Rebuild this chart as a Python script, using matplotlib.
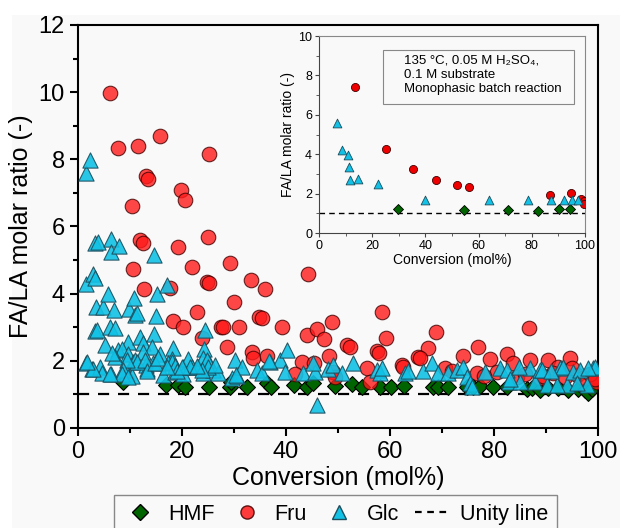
import matplotlib.pyplot as plt
from matplotlib.lines import Line2D
from matplotlib.patches import Rectangle

plt.rcParams['font.family'] = ['Liberation Sans', 'DejaVu Sans']

# main plot data (conversion in mol%, FA/LA ratio)
hmf_x = [8.7, 16.9, 19.2, 20.6, 25.2, 29.2, 29.4, 32.5, 36.3, 37.1, 41.5, 44.0, 45.2, 49.4,
         52.6, 54.6, 58.1, 60.2, 62.7, 68.3, 69.2, 71.2, 74.8, 76.0, 77.3, 79.8, 82.5, 86.3,
         87.3, 88.8, 90.4, 92.4, 94.3, 96.2, 97.5, 98.1, 98.8]
hmf_y = [1.37, 1.28, 1.28, 1.22, 1.22, 1.22, 1.37, 1.22, 1.34, 1.22, 1.28, 1.22, 1.34, 1.25,
         1.31, 1.22, 1.22, 1.22, 1.25, 1.22, 1.22, 1.22, 1.22, 1.22, 1.25, 1.22, 1.22, 1.16,
         1.19, 1.13, 1.19, 1.19, 1.13, 1.16, 1.13, 1.04, 1.16]

fru_x = [6.2, 7.7, 11.5, 15.8, 25.2, 13.1, 13.5, 19.8, 20.6, 10.4, 12.0, 12.5, 19.2, 25.0,
         10.6, 12.7, 17.6, 21.9, 24.8, 25.2, 29.2, 30.0, 22.8, 18.3, 20.1, 23.9, 27.5, 27.8,
         31.0, 28.7, 33.2, 36.0, 34.8, 35.4, 39.2, 33.4, 33.7, 36.3, 44.3, 44.1, 46.0, 47.4,
         48.9, 43.0, 45.3, 41.7, 48.2, 49.0, 51.7, 52.3, 58.4, 59.2, 57.5, 57.9, 55.6, 56.2,
         68.8, 67.3, 65.4, 65.8, 62.3, 62.5, 70.6, 76.9, 74.0, 79.2, 82.5, 83.7, 86.7, 86.9,
         90.4, 92.3, 94.6, 76.7, 80.6, 84.4, 91.3, 96.0, 99.0, 99.9, 97.1, 93.7, 88.8, 49.4,
         95.0, 98.5, 99.5, 89.5, 86.0, 72.0, 78.0]
fru_y = [9.98, 8.34, 8.40, 8.70, 8.16, 7.50, 7.40, 7.10, 6.80, 6.60, 5.60, 5.50, 5.40, 5.70,
         4.73, 4.13, 4.17, 4.80, 4.35, 4.32, 4.90, 3.75, 3.46, 3.19, 3.00, 2.68, 3.00, 3.00,
         3.00, 2.42, 4.40, 4.13, 3.30, 3.27, 3.00, 2.26, 2.07, 2.15, 4.60, 2.77, 2.95, 2.65,
         3.15, 1.97, 1.93, 1.60, 2.14, 1.67, 2.47, 2.41, 3.45, 2.68, 2.30, 2.24, 1.79, 1.37,
         2.86, 2.38, 2.11, 2.08, 1.88, 1.82, 1.79, 2.41, 2.14, 2.05, 2.20, 1.93, 2.98, 2.02,
         2.02, 1.82, 2.08, 1.64, 1.67, 1.52, 1.64, 1.58, 1.52, 1.37, 1.49, 1.52, 1.49, 1.52,
         1.80, 1.60, 1.45, 1.55, 1.60, 1.70, 1.55]

glc_x = [1.5, 2.3, 3.3, 3.8, 6.3, 6.3, 7.9, 14.6,
         1.5, 2.9, 3.3, 3.5, 4.8, 5.8, 6.9, 3.3, 3.6, 6.2, 7.1, 9.8, 11.0, 11.3, 10.8, 15.2,
         17.1, 15.0, 5.2, 9.6, 11.9, 12.5, 14.6, 14.2, 24.4, 24.2,
         1.5, 2.7, 4.2, 4.6, 6.3, 7.7, 8.5, 7.1, 9.6, 10.6, 11.0, 9.4, 10.4, 12.5, 13.1, 13.3,
         14.4, 15.8, 16.3, 18.3, 18.1, 18.7, 17.3, 20.2, 21.2, 20.2, 21.9, 23.1, 24.0, 24.0,
         25.2, 25.9, 27.0, 30.2, 29.6, 30.6, 31.5, 34.4, 35.4, 36.9, 38.8, 40.1, 39.8, 43.2,
         45.6, 45.9,
         6.5, 11.3, 9.4, 8.7, 8.5, 9.6, 12.9, 13.3, 14.8, 15.4, 18.1, 18.7, 19.0, 17.1, 21.5,
         24.8, 25.0, 23.8, 20.0, 22.9, 2.9, 6.2, 1.7,
         26.3, 30.4, 36.7, 48.1, 49.0,
         45.2, 50.7, 52.9, 57.5, 58.1, 58.5, 62.9, 63.5, 66.3, 68.0, 69.2, 71.2, 72.9, 74.0,
         74.8, 75.4, 78.3, 81.2, 82.5, 82.9, 85.0, 86.9, 87.9, 88.8, 90.2, 92.7, 93.3, 94.0,
         95.2, 96.5, 97.9, 99.0, 99.4, 98.1, 96.0, 75.8, 89.2, 92.1, 83.1, 84.8, 91.0]
glc_y = [7.60, 7.98, 5.50, 5.54, 5.63, 5.24, 5.42, 5.15,
         4.30, 4.60, 4.47, 3.60, 3.60, 3.98, 3.51, 2.89, 2.92, 3.00, 2.98, 3.54, 3.36, 3.42,
         3.87, 3.99, 4.26, 3.33, 2.47, 2.56, 2.71, 2.53, 2.80, 2.41, 2.92, 2.35,
         1.94, 1.76, 1.82, 1.64, 1.61, 2.32, 2.35, 2.11, 2.20, 1.97, 2.02, 1.64, 1.55, 2.26,
         1.88, 1.76, 1.94, 2.20, 1.58, 2.38, 2.05, 1.67, 1.94, 1.82, 2.05, 1.61, 1.82, 1.82,
         2.08, 1.64, 1.94, 1.73, 1.64, 2.02, 1.49, 1.55, 1.82, 1.73, 1.64, 1.97, 2.02, 2.32,
         1.67, 1.64, 1.67, 0.68,
         2.23, 1.97, 2.02, 1.73, 1.61, 1.52, 2.02, 1.70, 1.94, 2.08, 1.97, 1.85, 1.70, 1.82,
         1.82, 2.02, 1.82, 1.73, 1.82, 1.85, 1.76, 1.61, 1.97,
         1.88, 1.58, 2.00, 1.76, 1.88,
         1.94, 1.64, 1.94, 1.73, 1.64, 1.79, 1.64, 1.70, 1.70, 1.94, 1.64, 1.64, 1.73, 1.82,
         1.52, 1.34, 1.67, 1.79, 1.73, 1.37, 1.37, 1.79, 1.37, 1.73, 1.28, 1.79, 1.82, 1.28,
         1.67, 1.73, 1.28, 1.79, 1.82, 1.79, 1.34, 1.22, 1.73, 1.28, 1.46, 1.82, 1.70]

# inset data (monophasic batch reaction)
in_hmf_x = [29.6, 54.5, 70.9, 82.2, 90.2, 94.4]
in_hmf_y = [1.20, 1.15, 1.19, 1.12, 1.24, 1.24]
in_fru_x = [13.5, 25.2, 35.2, 44.0, 51.8, 56.5, 86.8, 94.7, 98.5, 99.7, 99.7]
in_fru_y = [7.39, 4.29, 3.24, 2.71, 2.42, 2.34, 1.95, 2.03, 1.71, 1.61, 1.49]
in_glc_x = [6.6, 8.5, 10.8, 11.4, 11.7, 14.5, 22.0, 39.8, 63.9, 78.4, 87.1, 92.2, 95.0, 97.5]
in_glc_y = [5.61, 4.20, 3.95, 3.36, 2.71, 2.76, 2.51, 1.66, 1.66, 1.66, 1.66, 1.66, 1.66, 1.66]

c_hmf = '#006400'
c_fru = '#ff1a1a'
c_glc = '#12c2e6'
bg = '#f9f9f9'

fig = plt.figure(figsize=(6.2, 5.28), dpi=100)
fig.patch.set_facecolor('white')
fig.add_artist(Rectangle((12 / 620, 0), 1, 1 - 15 / 528, transform=fig.transFigure,
                         facecolor=bg, edgecolor='none', zorder=-10))

ax = fig.add_axes([0.1258, 0.1894, 0.8387, 0.7633])
ax.set_facecolor(bg)
ax.axhline(1, color='black', ls=(0, (5, 4)), lw=1.6, zorder=1)
ax.scatter(hmf_x, hmf_y, marker='D', s=65, c=c_hmf, edgecolors='black', linewidths=0.8, zorder=2)
ax.scatter(fru_x, fru_y, marker='o', s=110, c=c_fru, alpha=0.8, edgecolors='#400000',
           linewidths=0.8, zorder=3)
ax.scatter(glc_x, glc_y, marker='^', s=120, c=c_glc, alpha=0.9, edgecolors='#1b4d5c',
           linewidths=0.8, zorder=4)

ax.set_xlim(0, 100)
ax.set_ylim(0, 12)
ax.set_xticks(range(0, 101, 20))
ax.set_xticks(range(10, 101, 20), minor=True)
ax.set_yticks(range(0, 13, 2))
ax.set_yticks(range(1, 13, 2), minor=True)
ax.tick_params(which='both', direction='out', width=1.5, top=False, right=False, labelsize=17)
ax.tick_params(which='major', length=6)
ax.tick_params(which='minor', length=3.5)
for sp in ax.spines.values():
    sp.set_linewidth(1.5)
ax.set_xlabel('Conversion (mol%)', fontsize=18, labelpad=2)
ax.set_ylabel('FA/LA molar ratio (-)', fontsize=18, labelpad=4)

# inset
axi = fig.add_axes([0.5145, 0.5587, 0.429, 0.373])
axi.set_facecolor(bg)
axi.axhline(1, color='black', ls=(0, (4, 3)), lw=1.0, zorder=1)
axi.scatter(in_hmf_x, in_hmf_y, marker='D', s=26, c=c_hmf, edgecolors='black', linewidths=0.6, zorder=2)
axi.scatter(in_fru_x, in_fru_y, marker='o', s=34, c='#ee0000', edgecolors='#400000',
            linewidths=0.6, zorder=3)
axi.scatter(in_glc_x, in_glc_y, marker='^', s=40, c=c_glc, edgecolors='#1b4d5c',
            linewidths=0.6, zorder=4)
axi.set_xlim(0, 100)
axi.set_ylim(0, 10)
axi.set_xticks(range(0, 101, 20))
axi.set_xticks(range(10, 101, 20), minor=True)
axi.set_yticks(range(0, 11, 2))
axi.set_yticks(range(1, 11, 2), minor=True)
axi.tick_params(which='both', direction='out', top=False, right=False, labelsize=9, pad=2,
                color='#444444')
axi.tick_params(which='major', length=3)
axi.tick_params(which='minor', length=2)
for side in ['left', 'bottom']:
    axi.spines[side].set_color('#444444')
for side in ['top', 'right']:
    axi.spines[side].set_color('#888888')
axi.set_xlabel('Conversion (mol%)', fontsize=10, labelpad=1)
axi.set_ylabel('FA/LA molar ratio (-)', fontsize=10, labelpad=2)

axi.add_patch(Rectangle((0.24, 0.655), 0.718, 0.274, transform=axi.transAxes,
                        facecolor=bg, edgecolor='#888888', lw=0.8, zorder=5))
axi.text(0.32, 0.905, '135 \u00b0C, 0.05 M H\u2082SO\u2084,\n0.1 M substrate\nMonophasic batch reaction',
         transform=axi.transAxes, fontsize=9.5, va='top', ha='left', linespacing=1.25, zorder=6)

handles = [
    Line2D([], [], marker='D', ls='none', markersize=8, markerfacecolor=c_hmf, markeredgecolor='black'),
    Line2D([], [], marker='o', ls='none', markersize=9.5, markerfacecolor=c_fru, alpha=0.85,
           markeredgecolor='#400000'),
    Line2D([], [], marker='^', ls='none', markersize=10, markerfacecolor=c_glc, markeredgecolor='#1b4d5c'),
    Line2D([], [], color='black', ls=(0, (3, 2.5)), lw=1.6),
]
labels = ['HMF', 'Fru', 'Glc', 'Unity line']
fig.legend(handles, labels, loc='upper center', bbox_to_anchor=(0.541, 0.062), ncol=4,
           fontsize=15.5, frameon=True, fancybox=False, edgecolor='#888888', facecolor=bg,
           framealpha=1, handletextpad=0.5, columnspacing=0.7, handlelength=1.6,
           borderaxespad=0)

fig.savefig('out.png', dpi=100, facecolor=fig.get_facecolor())
